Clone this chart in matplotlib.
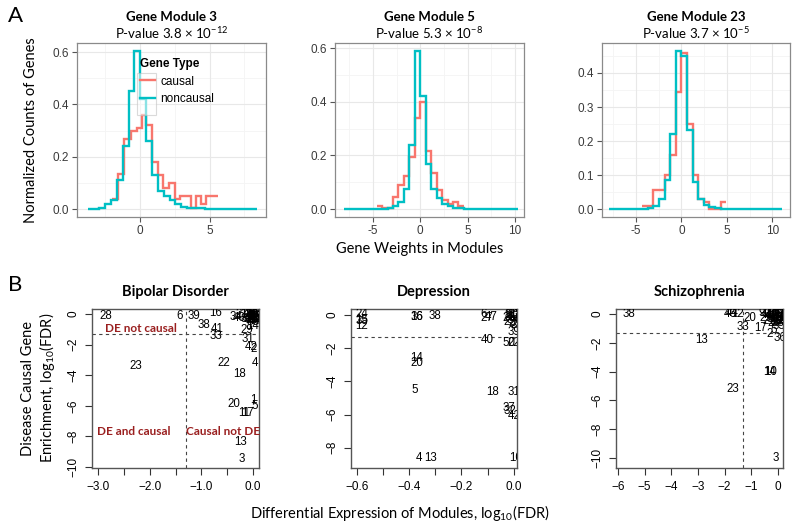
import numpy as np
import matplotlib
matplotlib.use("Agg")
import matplotlib.pyplot as plt
from matplotlib.patches import Rectangle
from matplotlib.lines import Line2D

plt.rcParams['font.family'] = ['Liberation Sans', 'DejaVu Sans']
LATO = ['Lato', 'DejaVu Sans']

W, H = 800, 531
RED = '#F8766D'
CYAN = '#00BFC4'
DARKRED = '#9a1f1f'

# ---------------- panel A: step histograms of gene weights ----------------
m3_nc_start, m3_nc_width = -3.74, 0.42
m3_noncausal = [0.0, 0.0, 0.005, 0.02, 0.035, 0.11, 0.24, 0.45, 0.605, 0.42,
                0.26, 0.13, 0.07, 0.05, 0.035, 0.02, 0.01, 0.006, 0.004, 0.003,
                0.002, 0.002, 0.001, 0.001, 0.001, 0.0, 0.0, 0.0, 0.0]
m3_causal_edges = [-2.0, -1.55, -1.1, -0.65, -0.22, 0.15, 0.42, 0.9, 1.3, 1.68,
                   2.12, 2.5, 2.88, 3.3, 3.7, 4.05, 4.42, 4.78, 5.2, 5.6]
m3_causal = [0.04, 0.135, 0.27, 0.30, 0.31, 0.36, 0.32, 0.18, 0.13, 0.08,
             0.10, 0.04, 0.05, 0.05, 0.005, 0.05, 0.02, 0.05, 0.05]

m5_nc_start, m5_width = -8.05, 0.575
m5_noncausal = [0.0, 0.0, 0.0, 0.0, 0.0, 0.0, 0.0, 0.002, 0.005, 0.01, 0.025,
                0.075, 0.24, 0.59, 0.42, 0.17, 0.075, 0.04, 0.02, 0.01, 0.005,
                0.003, 0.001, 0.0, 0.0, 0.0, 0.0, 0.0, 0.0, 0.0, 0.0, 0.0]
m5_c_start = -4.6
m5_causal = [0.012, 0.003, 0.005, 0.045, 0.09, 0.125, 0.195, 0.34, 0.40,
             0.215, 0.135, 0.07, 0.035, 0.02, 0.025, 0.01]

m23_nc_start, m23_width = -8.0, 0.615
m23_noncausal = [0.0, 0.0, 0.0, 0.0, 0.0, 0.0, 0.001, 0.003, 0.008, 0.03, 0.085,
                 0.22, 0.465, 0.45, 0.232, 0.08, 0.03, 0.012, 0.006, 0.003,
                 0.001, 0.0, 0.0, 0.0, 0.0, 0.0, 0.0, 0.0, 0.0, 0.0, 0.0]
m23_c_start = -4.31
m23_causal = [0.01, 0.01, 0.055, 0.055, 0.1, 0.16, 0.345, 0.46, 0.25, 0.1,
              0.03, 0.02, 0.0, 0.0, 0.022]

module_titles = ['Gene Module 3', 'Gene Module 5', 'Gene Module 23']
module_pvals = [r'P-value 3.8 × 10$^{\mathregular{-12}}$',
                r'P-value 5.3 × 10$^{\mathregular{-8}}$',
                r'P-value 3.7 × 10$^{\mathregular{-5}}$']

# ---------------- panel B: module labels (DE log10 FDR, causal log10 FDR) ----------------
bp_ids = ['28', '6', '39', '16', '34', '21', '19', '40', '8', '38', '41', '33', '29',
          '31', '42', '14', '2', '23', '22', '18', '4', '20', '1', '5', '11', '17',
          '13', '3', '7', '9', '10', '12', '15', '24', '25', '26', '27', '30', '32',
          '35', '36', '37', '43', '44', '45', '46']
bp_de = [-2.85, -1.42, -1.15, -0.72, -0.33, -0.22, -0.12, -0.27, -0.18, -0.96, -0.70,
         -0.71, -0.13, -0.09, -0.03, 0.0, 0.02, -2.27, -0.57, -0.27, 0.03, -0.38,
         0.01, 0.03, -0.17, -0.10, -0.24, -0.22, -0.08, -0.05, -0.03, -0.01, 0.0,
         -0.06, -0.02, 0.01, -0.04, 0.02, -0.07, 0.0, -0.03, 0.03, -0.01, 0.02,
         -0.05, 0.04]
bp_causal = [-0.15, -0.15, -0.1, 0.05, -0.2, 0.0, 0.0, -0.25, -0.3, -0.7, -1.0,
             -1.45, -1.05, -1.65, -2.15, -0.8, -2.3, -3.4, -3.2, -3.9, -3.2, -5.9,
             -5.6, -6.0, -6.5, -6.5, -8.4, -9.45, 0.0, -0.1, 0.0, -0.2, 0.0, -0.3,
             -0.4, -0.1, 0.0, -0.3, -0.15, -0.5, -0.25, 0.0, -0.05, -0.45, -0.4, -0.2]

dep_ids = ['24', '15', '35', '12', '36', '16', '38', '6', '27', '47', '9', '21', '33',
           '23', '2', '28', '19', '34', '25', '8', '17', '39', '40', '50', '22', '14',
           '20', '5', '18', '31', '37', '32', '42', '4', '13', '10']
dep_de = [-0.58, -0.58, -0.58, -0.58, -0.37, -0.37, -0.30, -0.115, -0.105, -0.085,
          -0.02, -0.01, 0.0, -0.015, 0.0, -0.02, 0.005, -0.005, 0.002, -0.025, 0.0,
          0.0, -0.10, -0.02, 0.0, -0.37, -0.37, -0.38, -0.08, 0.0, -0.02, -0.015,
          0.0, -0.362, -0.317, 0.005]
dep_causal = [0.05, -0.3, -0.35, -0.65, -0.15, -0.1, -0.05, 0.05, -0.2, -0.1, 0.1,
              -0.1, 0.0, -0.4, -0.6, -0.2, 0.1, -0.3, -0.5, 0.0, -0.15, -1.0, -1.5,
              -1.7, -1.7, -2.6, -2.9, -4.5, -4.65, -4.65, -5.6, -5.8, -6.1, -8.6,
              -8.6, -8.6]

scz_ids = ['38', '46', '44', '12', '20', '9', '33', '17', '2', '5', '36', '13', '14',
           '10', '23', '3', '7', '8', '15', '16', '19', '21', '22', '24', '25', '26',
           '27', '28', '29', '30', '31', '34', '35', '37', '39', '40', '41', '42',
           '43', '45']
scz_de = [-5.6, -1.8, -1.7, -1.5, -1.05, -0.6, -1.3, -0.67, -0.33, -0.15, 0.08,
          -2.85, -0.33, -0.27, -1.7, -0.07, -0.4, -0.3, -0.2, -0.1, 0.0, -0.35,
          0.05, -0.15, -0.05, 0.1, -0.25, 0.0, -0.45, 0.1, -0.1, -0.2, 0.05, -0.3,
          0.15, -0.05, -0.4, 0.1, -0.15, 0.0]
scz_causal = [0.0, 0.0, 0.05, 0.0, -0.3, 0.05, -0.9, -0.95, -1.4, -1.1, -1.7, -1.8,
              -4.0, -4.0, -5.2, -10.0, 0.1, -0.2, 0.0, -0.3, 0.05, -0.5, -0.4, -0.6,
              -0.1, 0.0, 0.1, -0.6, -0.3, -0.25, 0.1, -0.35, -0.8, 0.0, -0.5, -0.45,
              -0.1, 0.1, -0.15, -0.25]

fdr_cut = np.log10(0.05)

fig = plt.figure(figsize=(W / 100, H / 100), dpi=100)


def px_axes(l, t, r, b):
    return fig.add_axes([l / W, 1 - b / H, (r - l) / W, (b - t) / H])


def gg_style(ax, xlim, ylim, xt, xminor, yt, ytl, yminor):
    ax.set_xlim(xlim)
    ax.set_ylim(ylim)
    for v in xminor:
        ax.axvline(v, color='#f4f4f4', lw=0.6, zorder=0)
    for v in yminor:
        ax.axhline(v, color='#f4f4f4', lw=0.6, zorder=0)
    for v in xt:
        ax.axvline(v, color='#e8e8e8', lw=0.8, zorder=0)
    for v in yt:
        ax.axhline(v, color='#e8e8e8', lw=0.8, zorder=0)
    ax.set_xticks(xt)
    ax.set_xticklabels([str(v) for v in xt])
    ax.set_yticks(yt)
    ax.set_yticklabels(ytl)
    ax.tick_params(length=3.5, width=0.8, color='#555555', labelcolor='#3a3a3a',
                   labelsize=8.5, pad=2)
    for s in ax.spines.values():
        s.set_color('#8a8a8a')
        s.set_linewidth(0.9)


def step(ax, start, width, vals, color):
    edges = start + width * np.arange(len(vals) + 1)
    ax.stairs(vals, edges, baseline=None, color=color, lw=1.7)


# --- top row
a1 = px_axes(77, 43, 266, 217)
gg_style(a1, (-4.5, 9.05), (-0.03, 0.635), [0, 5], [-2.5, 2.5, 7.5],
         [0.0, 0.2, 0.4, 0.6], ['0.0', '0.2', '0.4', '0.6'], [0.1, 0.3, 0.5])
a1.stairs(m3_causal, m3_causal_edges, baseline=None, color=RED, lw=1.7)
step(a1, m3_nc_start, m3_nc_width, m3_noncausal, CYAN)

a2 = px_axes(335, 43, 524, 217)
gg_style(a2, (-9.0, 10.95), (-0.0295, 0.6195), [-5, 0, 5, 10], [-7.5, -2.5, 2.5, 7.5],
         [0.0, 0.2, 0.4, 0.6], ['0.0', '0.2', '0.4', '0.6'], [0.1, 0.3, 0.5])
step(a2, m5_c_start, m5_width, m5_causal, RED)
step(a2, m5_nc_start, m5_width, m5_noncausal, CYAN)

a3 = px_axes(602, 43, 790, 217)
gg_style(a3, (-8.75, 11.95), (-0.023, 0.488), [-5, 0, 5, 10], [-7.5, -2.5, 2.5, 7.5],
         [0.0, 0.1, 0.2, 0.3, 0.4], ['0.0', '0.1', '0.2', '0.3', '0.4'],
         [0.05, 0.15, 0.25, 0.35, 0.45])
step(a3, m23_c_start, m23_width, m23_causal, RED)
step(a3, m23_nc_start, m23_width, m23_noncausal, CYAN)

# legend of panel 1
a1.add_patch(Rectangle((0.315, 0.585), 0.105, 0.245, transform=a1.transAxes,
                       facecolor='white', alpha=0.55, edgecolor='#bdbdbd', lw=0.8, zorder=5))
handles = [Line2D([], [], color=RED, lw=1.7), Line2D([], [], color=CYAN, lw=1.7)]
leg = a1.legend(handles, ['causal', 'noncausal'], title='Gene Type', frameon=False,
                loc='upper left', bbox_to_anchor=(0.29, 0.96), fontsize=8.5,
                handlelength=1.3, handletextpad=0.4, labelspacing=0.45, borderpad=0.2,
                title_fontproperties={'weight': 'bold', 'size': 8.5})
leg._legend_box.align = 'left'
leg.set_zorder(6)

for ax, t, p in zip([a1, a2, a3], module_titles, module_pvals):
    pos = ax.get_position()
    xc = (pos.x0 + pos.x1) / 2
    fig.text(xc, 1 - 17 / H, t, ha='center', va='center', fontsize=9.5,
             fontweight='bold', family=LATO)
    fig.text(xc, 1 - 33 / H, p, ha='center', va='center', fontsize=9.5, family=LATO)

fig.text(420 / W, 1 - 249 / H, 'Gene Weights in Modules', ha='center', va='center',
         fontsize=10.5, family=LATO)
fig.text(31 / W, 1 - 130 / H, 'Normalized Counts of Genes', ha='center', va='center',
         rotation=90, fontsize=10.5, family=LATO)


# --- bottom row
def r_panel(ax, ids, xs, ys, xlim, ylim, xt, xtl, yt, title):
    ax.set_xlim(xlim)
    ax.set_ylim(ylim)
    ax.axvline(fdr_cut, color='#444444', lw=0.8, ls=(0, (3, 3)))
    ax.axhline(fdr_cut, color='#444444', lw=0.8, ls=(0, (3, 3)))
    for t, x, y in zip(ids, xs, ys):
        ax.text(x, y, t, ha='center', va='center', fontsize=8.3, clip_on=True)
    ax.set_xticks(xt)
    ax.set_xticklabels(xtl)
    ax.set_yticks(yt)
    ax.set_yticklabels([str(v).replace('-', '\u2212') for v in yt], rotation=90,
                       va='center')
    ax.tick_params(length=5, width=0.8, labelsize=8.5, pad=4, color='#333333')
    for s in ax.spines.values():
        s.set_color('#555555')
        s.set_linewidth(1.0)
    pos = ax.get_position()
    fig.text((pos.x0 + pos.x1) / 2, 1 - 292 / H, title, ha='center', va='center',
             fontsize=10.5, fontweight='bold', family=LATO)


b1 = px_axes(92, 309, 259, 468)
r_panel(b1, bp_ids, bp_de, bp_causal, (-3.12, 0.115), (-10.07, 0.33),
        [-3.0, -2.5, -2.0, -1.5, -1.0, -0.5, 0.0],
        ['\u22123.0', '', '\u22122.0', '', '\u22121.0', '', '0.0'],
        [0, -2, -4, -6, -8, -10], 'Bipolar Disorder')
for txt, x, y in [('DE not causal', -2.17, -0.92), ('DE and causal', -2.31, -7.7),
                  ('Causal not DE', -0.58, -7.7)]:
    b1.text(x, y, txt, ha='center', va='center', color=DARKRED, fontsize=8.5,
            fontweight='bold', family=LATO)

b2 = px_axes(351, 309, 517, 468)
r_panel(b2, dep_ids, dep_de, dep_causal, (-0.622, 0.012), (-9.22, 0.36),
        [-0.6, -0.5, -0.4, -0.3, -0.2, -0.1, 0.0],
        ['\u22120.6', '', '\u22120.4', '', '\u22120.2', '', '0.0'],
        [0, -2, -4, -6, -8], 'Depression')

b3 = px_axes(616, 309, 783, 468)
r_panel(b3, scz_ids, scz_de, scz_causal, (-6.07, 0.19), (-10.7, 0.35),
        [-6, -5, -4, -3, -2, -1, 0],
        ['\u22126', '\u22125', '\u22124', '\u22123', '\u22122', '\u22121', '0'],
        [0, -2, -4, -6, -8, -10], 'Schizophrenia')

fig.text(400 / W, 1 - 513 / H,
         r'Differential Expression of Modules, log$_{\mathregular{10}}$(FDR)',
         ha='center', va='center', fontsize=10.5, family=LATO)
fig.text(39 / W, 1 - 388 / H,
         'Disease Causal Gene\n' + r'Enrichment, log$_{\mathregular{10}}$(FDR)',
         ha='center', va='center', rotation=90, fontsize=10.5, family=LATO,
         linespacing=1.1)

fig.text(8 / W, 1 - 16 / H, 'A', ha='left', va='center', fontsize=16, family=LATO)
fig.text(8 / W, 1 - 285 / H, 'B', ha='left', va='center', fontsize=16, family=LATO)

fig.savefig('out.png', dpi=100)
